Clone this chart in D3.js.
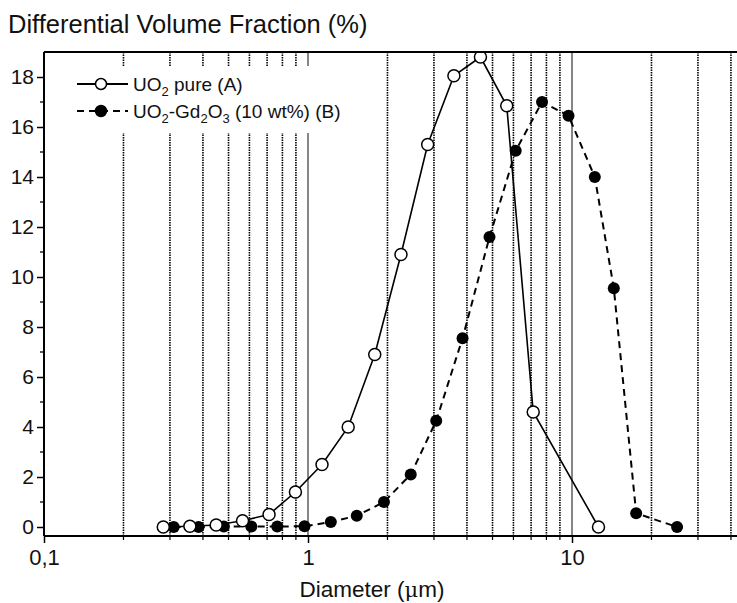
<!DOCTYPE html>
<html>
<head>
<meta charset="utf-8">
<script src="https://cdn.jsdelivr.net/npm/d3@7"></script>
<style>
  body { margin: 0; background: #fff; }
  svg { display: block; font-family: "Liberation Sans", Arial, sans-serif; }
</style>
</head>
<body>
<div id="chart"></div>
<script>
// Series A: UO2 pure (open circles, solid line)
const diamA = [0.283, 0.357, 0.449, 0.565, 0.712, 0.896, 1.13, 1.42, 1.79, 2.25, 2.84, 3.57, 4.5, 5.66, 7.13, 12.6];
const valA  = [0.0, 0.03, 0.08, 0.25, 0.5, 1.4, 2.5, 4.0, 6.9, 10.9, 15.3, 18.05, 18.8, 16.85, 4.6, 0.0];

// Series B: UO2-Gd2O3 (10 wt%) (filled circles, dashed line)
const diamB = [0.31, 0.385, 0.48, 0.61, 0.765, 0.97, 1.22, 1.53, 1.94, 2.45, 3.06, 3.85, 4.87, 6.12, 7.7, 9.7, 12.2, 14.4, 17.5, 25.0];
const valB  = [0.0, 0.0, 0.02, 0.02, 0.02, 0.03, 0.2, 0.45, 1.0, 2.1, 4.25, 7.55, 11.6, 15.05, 17.0, 16.45, 14.0, 9.55, 0.55, 0.0];

const xTicks = [0.1, 1, 10];
const xTickLabels = ["0,1", "1", "10"];
const yTicks = [0, 2, 4, 6, 8, 10, 12, 14, 16, 18];
const yMinorTicks = [1, 3, 5, 7, 9, 11, 13, 15, 17];

const width = 737;
const height = 603;
const margin = { top: 52, left: 44, bottom: 536 };
const plotRight = 757; // frame continues past the picture edge

const svg = d3.select("#chart")
    .append("svg")
    .attr("width", width)
    .attr("height", height);

const x = d3.scaleLog()
    .domain([0.1, 50])
    .range([margin.left, margin.left + 264 * Math.log10(500)]);

const y = d3.scaleLinear()
    .domain([-0.36, 19.0])
    .range([margin.bottom, margin.top]);

svg.append("clipPath").attr("id", "plot")
    .append("rect")
    .attr("x", margin.left)
    .attr("y", margin.top)
    .attr("width", plotRight - margin.left)
    .attr("height", margin.bottom - margin.top);

// vertical grid lines: 2..9 of each decade dotted, decades solid
const minorGrid = [];
[0.1, 1, 10].forEach(dec => {
    for (let k = 2; k <= 9; k++) {
        const v = dec * k;
        if (v < 50) minorGrid.push(v);
    }
});

const grid = svg.append("g").attr("clip-path", "url(#plot)");
grid.selectAll(".gminor")
    .data(minorGrid)
    .enter()
    .append("line")
    .attr("x1", d => x(d))
    .attr("x2", d => x(d))
    .attr("y1", margin.top)
    .attr("y2", margin.bottom)
    .attr("stroke", "#000")
    .attr("stroke-width", 1.6)
    .attr("stroke-dasharray", "1.5,1");

grid.selectAll(".gmajor")
    .data([1, 10])
    .enter()
    .append("line")
    .attr("x1", d => x(d))
    .attr("x2", d => x(d))
    .attr("y1", margin.top)
    .attr("y2", margin.bottom)
    .attr("stroke", "#222")
    .attr("stroke-width", 1.1);

// legend box (white, hides the grid beneath)
const legend = svg.append("g");
legend.append("rect")
    .attr("x", 60)
    .attr("y", 66)
    .attr("width", 286)
    .attr("height", 67)
    .attr("fill", "#fff");

// data lines
const line = d3.line()
    .x(d => x(d[0]))
    .y(d => y(d[1]));

const dataA = diamA.map((d, i) => [d, valA[i]]);
const dataB = diamB.map((d, i) => [d, valB[i]]);

const plot = svg.append("g").attr("clip-path", "url(#plot)");

plot.append("path")
    .datum(dataB)
    .attr("d", line)
    .attr("fill", "none")
    .attr("stroke", "#000")
    .attr("stroke-width", 2)
    .attr("stroke-dasharray", "7,5");

plot.append("path")
    .datum(dataA)
    .attr("d", line)
    .attr("fill", "none")
    .attr("stroke", "#000")
    .attr("stroke-width", 1.6);

plot.selectAll(".ptB")
    .data(dataB)
    .enter()
    .append("circle")
    .attr("cx", d => x(d[0]))
    .attr("cy", d => y(d[1]))
    .attr("r", 6)
    .attr("fill", "#000");

plot.selectAll(".ptA")
    .data(dataA)
    .enter()
    .append("circle")
    .attr("cx", d => x(d[0]))
    .attr("cy", d => y(d[1]))
    .attr("r", 6)
    .attr("fill", "#fff")
    .attr("stroke", "#000")
    .attr("stroke-width", 1.5);

// axes
const xAxis = svg.append("g")
    .attr("transform", `translate(0, ${margin.bottom})`)
    .call(d3.axisBottom(x).tickValues(xTicks).tickFormat((d, i) => xTickLabels[i]).tickSize(7).tickPadding(6));
xAxis.select(".domain").remove();
xAxis.selectAll("text").attr("font-size", "22px").attr("fill", "#111");
xAxis.selectAll(".tick line").attr("stroke-width", 1.5);

svg.append("g")
    .attr("transform", `translate(0, ${margin.bottom})`)
    .selectAll("line")
    .data(minorGrid)
    .enter()
    .append("line")
    .attr("x1", d => x(d))
    .attr("x2", d => x(d))
    .attr("y1", 0)
    .attr("y2", 4)
    .attr("stroke", "#000")
    .attr("stroke-width", 1.2);

const yAxis = svg.append("g")
    .attr("transform", `translate(${margin.left}, 0)`)
    .call(d3.axisLeft(y).tickValues(yTicks).tickSize(7).tickPadding(3));
yAxis.select(".domain").remove();
yAxis.selectAll("text").attr("font-size", "21px").attr("fill", "#111");
yAxis.selectAll(".tick line").attr("stroke-width", 1.5);

svg.append("g")
    .attr("transform", `translate(${margin.left}, 0)`)
    .selectAll("line")
    .data(yMinorTicks)
    .enter()
    .append("line")
    .attr("x1", -4)
    .attr("x2", 0)
    .attr("y1", d => y(d))
    .attr("y2", d => y(d))
    .attr("stroke", "#000")
    .attr("stroke-width", 1.3);

// frame lines
svg.append("line")
    .attr("x1", margin.left).attr("x2", width)
    .attr("y1", margin.bottom).attr("y2", margin.bottom)
    .attr("stroke", "#000").attr("stroke-width", 2);
svg.append("line")
    .attr("x1", margin.left).attr("x2", width)
    .attr("y1", margin.top).attr("y2", margin.top)
    .attr("stroke", "#000").attr("stroke-width", 1.8);
svg.append("line")
    .attr("x1", margin.left).attr("x2", margin.left)
    .attr("y1", margin.top).attr("y2", margin.bottom)
    .attr("stroke", "#000").attr("stroke-width", 2);

// titles
svg.append("text")
    .attr("x", 8)
    .attr("y", 33)
    .attr("font-size", "25.5px")
    .attr("fill", "#111")
    .text("Differential Volume Fraction (%)");

const xTitle = svg.append("text")
    .attr("x", 372)
    .attr("y", 597)
    .attr("text-anchor", "middle")
    .attr("font-size", "22.5px")
    .attr("fill", "#111");
xTitle.append("tspan").text("Diameter (");
xTitle.append("tspan").attr("font-family", "'DejaVu Serif', serif").attr("font-size", "21px").text("\u03bc");
xTitle.append("tspan").text("m)");

// legend entries
const legendItems = [
    { y: 84, dash: null, fill: "#fff" },
    { y: 111, dash: "7,5", fill: "#000" }
];
legendItems.forEach((it, i) => {
    legend.append("line")
        .attr("x1", 77).attr("x2", 128)
        .attr("y1", it.y).attr("y2", it.y)
        .attr("stroke", "#000")
        .attr("stroke-width", i === 0 ? 1.8 : 2)
        .attr("stroke-dasharray", it.dash);
    legend.append("circle")
        .attr("cx", 101).attr("cy", it.y).attr("r", 5.5)
        .attr("fill", it.fill)
        .attr("stroke", "#000")
        .attr("stroke-width", 1.5);
});

const lA = legend.append("text").attr("x", 133).attr("y", 91).attr("font-size", "19px").attr("fill", "#111");
lA.append("tspan").text("UO");
lA.append("tspan").attr("font-size", "13px").attr("dy", 5).text("2");
lA.append("tspan").attr("dy", -5).text(" pure (A)");

const lB = legend.append("text").attr("x", 133).attr("y", 118).attr("font-size", "19px").attr("fill", "#111");
lB.append("tspan").text("UO");
lB.append("tspan").attr("font-size", "13px").attr("dy", 5).text("2");
lB.append("tspan").attr("dy", -5).text("-Gd");
lB.append("tspan").attr("font-size", "13px").attr("dy", 5).text("2");
lB.append("tspan").attr("dy", -5).text("O");
lB.append("tspan").attr("font-size", "13px").attr("dy", 5).text("3");
lB.append("tspan").attr("dy", -5).text(" (10 wt%) (B)");
</script>
</body>
</html>
